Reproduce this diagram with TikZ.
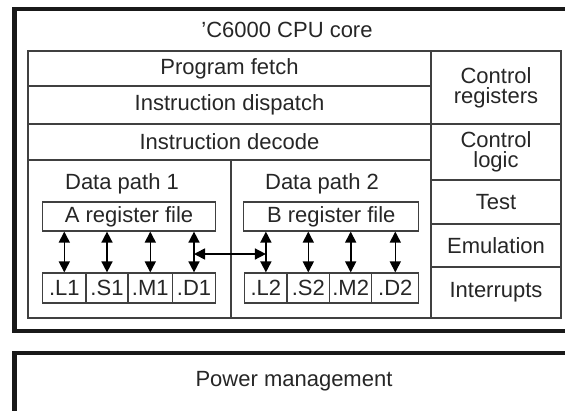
\documentclass[tikz,border=0pt]{standalone}
\usepackage{fontspec}
\setmainfont{Liberation Sans}
\usetikzlibrary{arrows.meta}
\tikzset{
  cell/.style={draw=black!75, line width=1.2pt, inner sep=0pt, align=center, text=black!85},
  unit/.style={cell, minimum height=30pt},
  link/.style={line width=1.6pt, {Triangle[length=11pt,width=11pt]}-{Triangle[length=11pt,width=11pt]}},
  frame/.style={line width=4.5pt, draw=black!90}
}

\begin{document}
\begin{tikzpicture}[x=1pt, y=-1pt, font=\fontsize{22}{20}\selectfont]
			%%%%% FRAME %%%%%
			\useasboundingbox (0,0) rectangle (565,410);
			\clip (0,0) rectangle (565,410);
			
			\draw[frame] (14.5,9) rectangle (590,331);
			\node[text=black!85] (core) at (287,30) {'C6000 CPU core};
			
			\draw[frame] (14.5,353) rectangle (590,440);
			\node[text=black!85] (power) at (294,381) {Power management};
			
			%%%%% PIPELINE %%%%%
			\node[cell, minimum width=403pt, minimum height=35pt] (fetch) at (229.5,68.5) {Program fetch};
			\node[cell, minimum width=403pt, minimum height=38pt] (dispatch) at (229.5,105) {Instruction dispatch};
			\node[cell, minimum width=403pt, minimum height=36pt] (decode) at (229.5,142) {Instruction decode};
			
			\node[cell, minimum width=130pt, minimum height=73pt] (ctrlreg) at (496,87.5) {Control\\registers};
			\node[cell, minimum width=130pt, minimum height=56pt] (ctrllogic) at (496,152) {Control\\logic};
			\node[cell, minimum width=130pt, minimum height=44pt] (test) at (496,202) {Test};
			\node[cell, minimum width=130pt, minimum height=43pt] (emu) at (496,245.5) {Emulation};
			\node[cell, minimum width=130pt, minimum height=51pt] (irq) at (496,292.5) {Interrupts};
			
			%%%%% DATA PATHS %%%%%
			\node[cell, minimum width=203pt, minimum height=158pt] (pathA) at (129.5,239) {};
			\node[cell, minimum width=200pt, minimum height=158pt] (pathB) at (331,239) {};
			\node[text=black!85] (labelA) at (122,184) {Data path 1};
			\node[text=black!85] (labelB) at (322,184) {Data path 2};
			
			\node[cell, minimum width=173pt, minimum height=29pt] (regA) at (129,216.5) {A register file};
			\node[cell, minimum width=175pt, minimum height=29pt] (regB) at (331.3,216.5) {B register file};
			
			\node[unit, minimum width=43.4pt] (l1) at (64.3,288) {.L1};
			\node[unit, minimum width=42pt] (s1) at (107,288) {.S1};
			\node[unit, minimum width=44.6pt] (m1) at (150.3,288) {.M1};
			\node[unit, minimum width=43pt] (d1) at (194,288) {.D1};
			
			\node[unit, minimum width=42.2pt] (l2) at (265.9,288) {.L2};
			\node[unit, minimum width=42.6pt] (s2) at (308.3,288) {.S2};
			\node[unit, minimum width=42.2pt] (m2) at (350.7,288) {.M2};
			\node[unit, minimum width=47pt] (d2) at (395.3,288) {.D2};
			
			%%%%% LINKS %%%%%
			\draw[link] (l1.north) -- (l1.north |- regA.south);
			\draw[link] (s1.north) -- (s1.north |- regA.south);
			\draw[link] (m1.north) -- (m1.north |- regA.south);
			\draw[link] (d1.north) -- (d1.north |- regA.south);
			
			\draw[link] (l2.north) -- (l2.north |- regB.south);
			\draw[link] (s2.north) -- (s2.north |- regB.south);
			\draw[link] (m2.north) -- (m2.north |- regB.south);
			\draw[link] (d2.north) -- (d2.north |- regB.south);
			
			\coordinate (cross) at (0,254);
			\draw[link] (d1.north |- cross) -- (l2.north |- cross);
			
			%%%%% END %%%%%
\end{tikzpicture}
\end{document}
